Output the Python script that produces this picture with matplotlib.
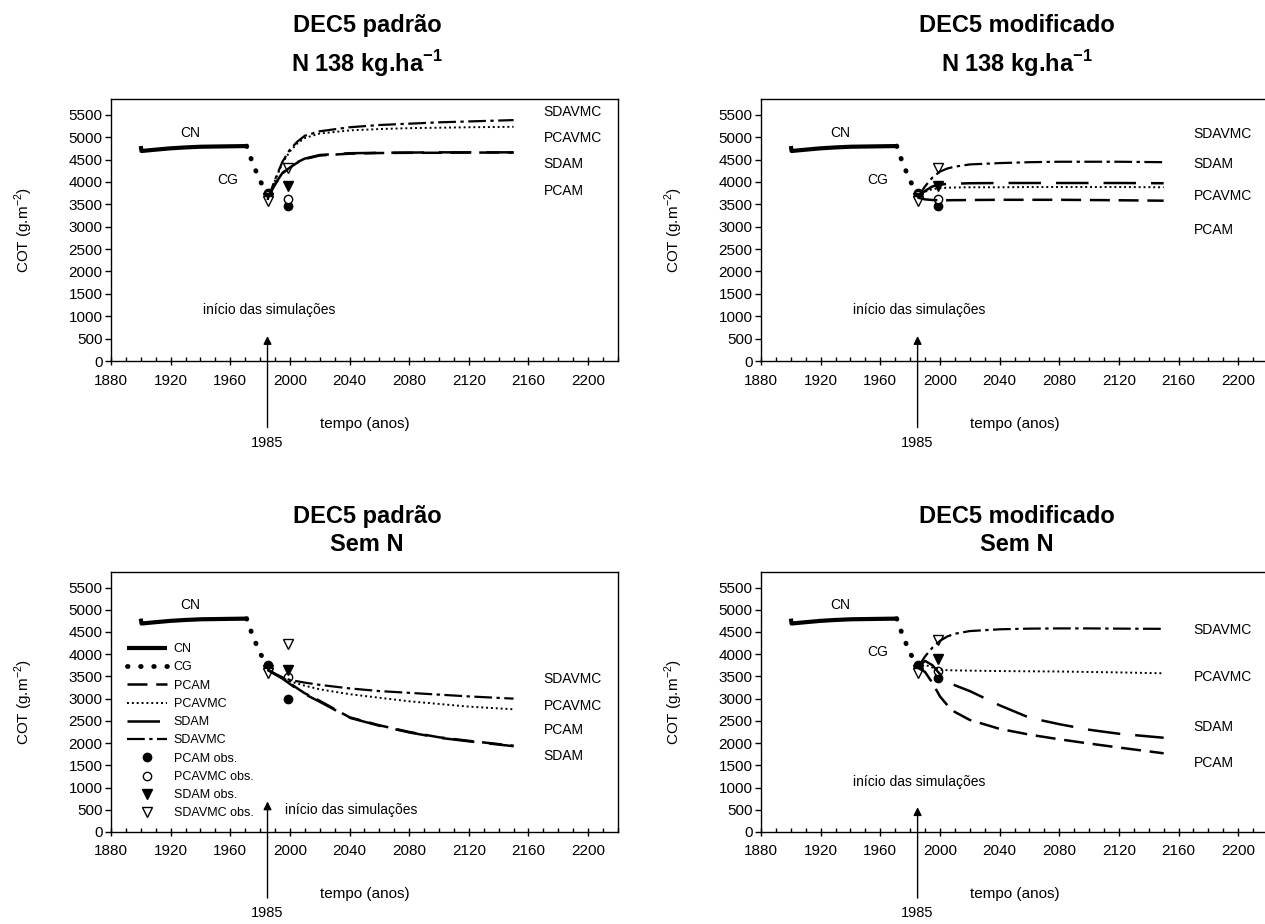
import matplotlib
matplotlib.use('Agg')
import matplotlib.pyplot as plt
from matplotlib.ticker import MultipleLocator

plt.rcParams['font.family'] = ['Liberation Sans', 'DejaVu Sans']
plt.rcParams['font.size'] = 10

# ---- data ----
years_cn = [1900, 1900.5, 1910, 1920, 1930, 1940, 1950, 1960, 1971]
cot_cn = [4800, 4690, 4720, 4750, 4770, 4785, 4790, 4795, 4800]
years_cg = [1971, 1975, 1980, 1985]
cot_cg = [4800, 4420, 4020, 3750]

sim_years = [1985, 1990, 1995, 2000, 2005, 2010, 2020, 2040, 2060, 2080, 2100, 2120, 2150]

# DEC5 padrao, N 138
tl_sdavmc = [3600, 4050, 4450, 4720, 4900, 5030, 5130, 5220, 5270, 5300, 5330, 5350, 5380]
tl_pcavmc = [3600, 4030, 4420, 4680, 4860, 4980, 5080, 5150, 5180, 5200, 5210, 5220, 5230]
tl_sdam = [3650, 3950, 4200, 4330, 4440, 4520, 4600, 4640, 4650, 4655, 4660, 4660, 4660]
tl_pcam = [3650, 3940, 4190, 4320, 4430, 4510, 4590, 4630, 4645, 4650, 4650, 4655, 4655]
# DEC5 modificado, N 138
tr_sdavmc = [3650, 3900, 4100, 4230, 4300, 4340, 4390, 4420, 4440, 4450, 4450, 4450, 4440]
tr_pcavmc = [3650, 3780, 3840, 3860, 3870, 3875, 3880, 3880, 3885, 3885, 3885, 3885, 3880]
tr_sdam = [3650, 3800, 3900, 3940, 3955, 3960, 3970, 3975, 3975, 3975, 3975, 3975, 3970]
tr_pcam = [3650, 3610, 3595, 3590, 3590, 3592, 3595, 3600, 3600, 3600, 3595, 3590, 3580]
# DEC5 padrao, Sem N
bl_sdavmc = [3650, 3550, 3480, 3420, 3390, 3360, 3310, 3230, 3170, 3130, 3090, 3050, 3000]
bl_pcavmc = [3650, 3540, 3460, 3390, 3340, 3290, 3210, 3100, 3020, 2940, 2880, 2820, 2760]
bl_sdam = [3650, 3550, 3450, 3330, 3210, 3100, 2930, 2570, 2390, 2240, 2120, 2040, 1930]
bl_pcam = [3650, 3560, 3470, 3350, 3230, 3120, 2950, 2580, 2400, 2250, 2130, 2050, 1940]
# DEC5 modificado, Sem N
br_sdavmc = [3700, 3950, 4150, 4300, 4400, 4460, 4520, 4560, 4575, 4580, 4580, 4575, 4570]
br_pcavmc = [3700, 3760, 3700, 3650, 3640, 3635, 3630, 3620, 3615, 3610, 3600, 3590, 3570]
br_sdam = [3700, 3850, 3750, 3550, 3420, 3300, 3170, 2850, 2570, 2425, 2300, 2210, 2120]
br_pcam = [3700, 3600, 3350, 3050, 2850, 2700, 2520, 2320, 2190, 2085, 1990, 1900, 1770]

obs_years = [1985, 1999]
obs_pcam = [3750, 3470]
obs_pcavmc = [3700, 3620]
obs_sdam = [3650, 3900]
obs_sdavmc = [3580, 4320]
bl_obs_pcam = [3750, 3000]
bl_obs_pcavmc = [3700, 3480]
bl_obs_sdam = [3650, 3650]
bl_obs_sdavmc = [3580, 4230]

panels = [
    ('DEC5 padrão', 'N 138 kg.ha$^{\\mathregular{-1}}$', (tl_pcam, tl_pcavmc, tl_sdam, tl_sdavmc),
     (obs_pcam, obs_pcavmc, obs_sdam, obs_sdavmc),
     [('SDAVMC', 5560), ('PCAVMC', 4990), ('SDAM', 4400), ('PCAM', 3790)]),
    ('DEC5 modificado', 'N 138 kg.ha$^{\\mathregular{-1}}$', (tr_pcam, tr_pcavmc, tr_sdam, tr_sdavmc),
     (obs_pcam, obs_pcavmc, obs_sdam, obs_sdavmc),
     [('SDAVMC', 5080), ('SDAM', 4400), ('PCAVMC', 3690), ('PCAM', 2930)]),
    ('DEC5 padrão', 'Sem N', (bl_pcam, bl_pcavmc, bl_sdam, bl_sdavmc),
     (bl_obs_pcam, bl_obs_pcavmc, bl_obs_sdam, bl_obs_sdavmc),
     [('SDAVMC', 3440), ('PCAVMC', 2840), ('PCAM', 2290), ('SDAM', 1700)]),
    ('DEC5 modificado', 'Sem N', (br_pcam, br_pcavmc, br_sdam, br_sdavmc),
     (obs_pcam, obs_pcavmc, obs_sdam, obs_sdavmc),
     [('SDAVMC', 4540), ('PCAVMC', 3480), ('SDAM', 2360), ('PCAM', 1550)]),
]

rects = [
    [0.0877, 0.6093, 0.4008, 0.2835],
    [0.6016, 0.6093, 0.4008, 0.2835],
    [0.0877, 0.0996, 0.4008, 0.2814],
    [0.6016, 0.0996, 0.4008, 0.2814],
]
# title line heights (axes fraction) for top and bottom rows
title_y = [(1.279, 1.134), (1.279, 1.134), (1.215, 1.105), (1.215, 1.105)]

styles = {
    'PCAM': dict(ls=(0, (8, 3.5)), lw=1.8),
    'PCAVMC': dict(ls=(0, (1, 1.5)), lw=1.4),
    'SDAM': dict(ls=(0, (13, 6)), lw=1.8),
    'SDAVMC': dict(ls=(0, (8, 2, 1.5, 2)), lw=1.6),
}

fig = plt.figure(figsize=(12.65, 9.24), dpi=100)

for i, (t1, t2, sims, obs, labels) in enumerate(panels):
    ax = fig.add_axes(rects[i])

    l_cn, = ax.plot(years_cn, cot_cn, color='k', lw=3, solid_capstyle='butt', label='CN')
    l_cg, = ax.plot(years_cg, cot_cg, color='k', lw=3.5, ls=(0, (0.1, 2.6)),
                    dash_capstyle='round', label='CG')
    lines = []
    for name, vals in zip(['PCAM', 'PCAVMC', 'SDAM', 'SDAVMC'], sims):
        l, = ax.plot(sim_years, vals, color='k', label=name, zorder=3, **styles[name])
        lines.append(l)

    m1, = ax.plot(obs_years, obs[0], 'o', color='k', ms=6, ls='none', label='PCAM obs.', zorder=2)
    m2, = ax.plot(obs_years, obs[1], 'o', mfc='white', mec='k', ms=6, ls='none',
                  label='PCAVMC obs.', zorder=2)
    m3, = ax.plot(obs_years, obs[2], 'v', color='k', ms=6.5, ls='none', label='SDAM obs.', zorder=2)
    m4, = ax.plot(obs_years, obs[3], 'v', mfc='white', mec='k', ms=6.5, ls='none',
                  label='SDAVMC obs.', zorder=2)

    ax.set_xlim(1880, 2220)
    ax.set_ylim(0, 5850)
    ax.xaxis.set_major_locator(MultipleLocator(40))
    ax.xaxis.set_minor_locator(MultipleLocator(10))
    ax.set_yticks(range(0, 5501, 500))
    ax.tick_params(axis='x', which='major', direction='inout', length=6, width=1, labelsize=11, pad=6)
    ax.tick_params(axis='x', which='minor', direction='in', length=3, width=1)
    ax.tick_params(axis='y', direction='out', length=4, width=1, labelsize=11, pad=2)
    for s in ax.spines.values():
        s.set_linewidth(1)

    ax.set_ylabel('COT (g.m$^{\\mathregular{-2}}$)', fontsize=11)
    ax.yaxis.set_label_coords(-0.15, 0.5)

    ax.text(0.505, title_y[i][0], t1, transform=ax.transAxes, ha='center', va='center',
            fontsize=17, fontweight='bold')
    ax.text(0.505, title_y[i][1], t2, transform=ax.transAxes, ha='center', va='center',
            fontsize=17, fontweight='bold')

    ax.text(1933, 5100, 'CN', ha='center', va='center', fontsize=10)
    if i != 2:
        ax.text(1958, 4050, 'CG', ha='center', va='center', fontsize=10)

    for name, y in labels:
        ax.text(2170, y, name, ha='left', va='center', fontsize=10)

    # arrow marking the start of the simulations
    arrow_top = 750 if i == 2 else 620
    ax.annotate('', xy=(1985, arrow_top), xytext=(1985, -1550),
                arrowprops=dict(arrowstyle='-|>', color='k', lw=1, mutation_scale=12),
                annotation_clip=False)
    ax.text(1985, -1830, '1985', ha='center', va='center', fontsize=10.5)
    ax.text(2050, -1400, 'tempo (anos)', ha='center', va='center', fontsize=11)
    if i == 2:
        ax.text(1997, 500, 'início das simulações', ha='left', va='center', fontsize=10)
        ax.legend(handles=[l_cn, l_cg] + lines + [m1, m2, m3, m4],
                  loc='upper left', bbox_to_anchor=(0.02, 0.75), frameon=False,
                  fontsize=9, handlelength=3.2, labelspacing=0.5, borderpad=0,
                  handletextpad=0.5)
    else:
        ax.text(1986, 1130, 'início das simulações', ha='center', va='center', fontsize=10)

fig.savefig('out.png', dpi=100)
